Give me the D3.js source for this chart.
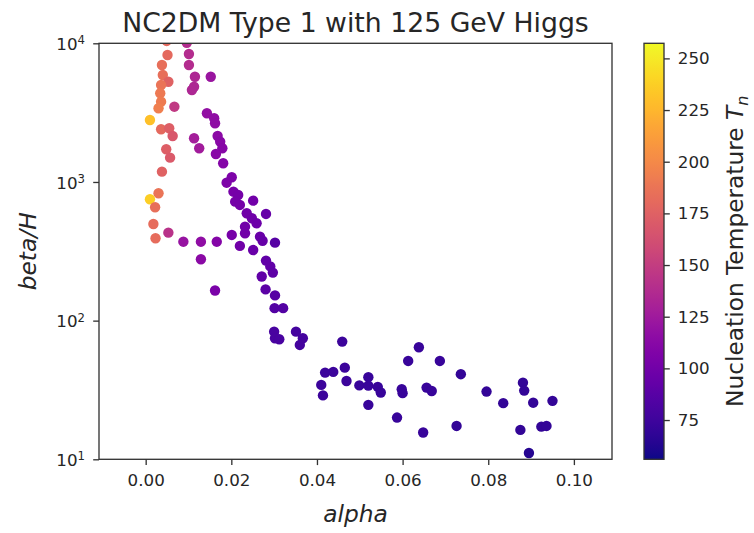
<!DOCTYPE html>
<html><head><meta charset="utf-8">
<script src="https://cdn.jsdelivr.net/npm/d3@7"></script>
<style>body{margin:0;background:#fff}svg{display:block}text{font-family:"DejaVu Sans",sans-serif;fill:#262626}</style>
</head><body><svg id="c" width="754" height="533"></svg>
<script>
const alpha = [0.0049,0.0096,0.0051,0.0101,0.0038,0.0101,0.0040,0.0115,0.0152,0.0053,0.0036,0.0113,0.0108,0.0034,0.0036,0.0067,0.0030,0.0143,0.0160,0.0010,0.0162,0.0036,0.0055,0.0063,0.0168,0.0113,0.0174,0.0048,0.0125,0.0179,0.0057,0.0164,0.0181,0.0038,0.0201,0.0189,0.0205,0.0216,0.0030,0.0010,0.0209,0.0251,0.0022,0.0220,0.0236,0.0281,0.0248,0.0259,0.0232,0.0018,0.0053,0.0232,0.0201,0.0267,0.0023,0.0088,0.0129,0.0166,0.0273,0.0302,0.0220,0.0251,0.0129,0.0281,0.0291,0.0297,0.0271,0.0162,0.0280,0.0302,0.0301,0.0321,0.0300,0.0302,0.0312,0.0351,0.0367,0.0360,0.0459,0.0419,0.0438,0.0465,0.0469,0.0410,0.0414,0.0499,0.0520,0.0520,0.0542,0.0549,0.0520,0.0613,0.0638,0.0687,0.0598,0.0600,0.0656,0.0668,0.0587,0.0648,0.0736,0.0726,0.0796,0.0835,0.0881,0.0884,0.0905,0.0950,0.0875,0.0924,0.0936,0.0895];
const betaH = [10400,10100,8234,8375,6972,6972,5906,5743,5743,5285,5003,4864,4605,4360,3792,3490,3399,3128,2879,2799,2650,2399,2439,2146,2146,2065,1952,1721,1750,1750,1497,1592,1364,1187,1081,988,851,806,829,750,721,733,657,683,595,588,547,504,476,498,431,427,415,403,393,371,371,371,377,365,346,323,277,271,246,222,208,165,168,152,123,123,83.3,74.7,73.4,83.3,74.7,66.8,70.6,42.2,42.7,45.8,36.7,34.4,28.9,34.1,39.1,34.0,33.3,30.3,24.7,51.2,64.3,51.2,32.0,30.0,32.9,31.1,20.0,15.6,41.1,17.4,30.8,25.4,35.7,31.3,25.6,26.4,16.3,17.2,17.4,11.1];
const Tn = [180,138,180,138,184,138,184,134,122,175,187,134,134,190,192,148,194,118,116,230,115,180,173,168,114,128,112,173,126,111,170,112,110,175,106,106,103,102,187,237,102,100,184,101,100,94,99,97,100,182,142,100,103,96,182,120,116,110,94,86,100,96,113,92,92,90,92,104,89,87,85,85,80,80,80,78,78,78,74,74,74,74,74,74,74,72,72,72,72,72,72,72,72,72,72,72,72,72,72,72,70,70,70,70,70,70,70,70,70,70,70,64];
const xTicks = [0.00,0.02,0.04,0.06,0.08,0.10];
const yTicks = [10,100,1000,10000];
const cTicks = [75,100,125,150,175,200,225,250];
const title = "NC2DM Type 1 with 125 GeV Higgs";

const svg = d3.select("#c");
const L=99, R=612, T=43.3, B=459.3;
const x = d3.scaleLinear().domain([-0.0109,0.1089]).range([L,R]);
const y = d3.scaleLog().domain([10,10000]).range([B,T]);
const cdom=[56,257.3];
const color = d3.scaleSequential(d3.interpolatePlasma).domain(cdom);
const TS=16.7, TL=5.8, LS=23.3, ink="#333";

svg.append("clipPath").attr("id","clip").append("rect").attr("x",L).attr("y",T).attr("width",R-L).attr("height",B-T);
svg.append("g").attr("clip-path","url(#clip)").selectAll("circle").data(alpha.map((a,i)=>({a,b:betaH[i],t:Tn[i]})))
  .join("circle").attr("cx",d=>x(d.a)).attr("cy",d=>y(d.b)).attr("r",5.2).attr("fill",d=>color(d.t));

svg.append("rect").attr("x",L).attr("y",T).attr("width",R-L).attr("height",B-T).attr("fill","none").attr("stroke",ink).attr("stroke-width",1.33);

const xa = svg.append("g").attr("transform",`translate(0,${B})`).call(d3.axisBottom(x).tickValues(xTicks).tickFormat(d3.format(".2f")).tickSize(TL).tickPadding(9));
const ya = svg.append("g").attr("transform",`translate(${L},0)`).call(d3.axisLeft(y).tickValues(yTicks).tickFormat("").tickSize(TL));
[xa,ya].forEach(g=>{g.select(".domain").remove();g.selectAll("line").attr("stroke",ink).attr("stroke-width",1.33);g.selectAll("text").style("font-size",TS+"px").attr("fill","#262626");});
ya.selectAll(".tick").append("text").attr("x",-14).attr("dy","0.38em").attr("text-anchor","end").style("font-size",TS+"px").attr("fill","#262626")
  .each(function(d){const t=d3.select(this);t.append("tspan").text("10");t.append("tspan").attr("dy","-0.5em").style("font-size","11.7px").text(Math.round(Math.log10(d)));});

svg.append("text").attr("x",(L+R)/2).attr("y",32).attr("text-anchor","middle").style("font-size","26.7px").text(title);
svg.append("text").attr("x",(L+R)/2).attr("y",522).attr("text-anchor","middle").style("font-size",LS+"px").style("font-style","italic").text("alpha");
svg.append("text").attr("transform",`translate(36,${(T+B)/2}) rotate(-90)`).attr("text-anchor","middle").style("font-size",LS+"px").style("font-style","italic").text("beta/H");

// colorbar
const CL=644, CW=20;
const cy = d3.scaleLinear().domain(cdom).range([B,T]);
const grad = svg.append("defs").append("linearGradient").attr("id","g").attr("x1",0).attr("y1",1).attr("x2",0).attr("y2",0);
d3.range(0,1.0001,0.02).forEach(s=>grad.append("stop").attr("offset",s).attr("stop-color",d3.interpolatePlasma(s)));
svg.append("rect").attr("x",CL).attr("y",T).attr("width",CW).attr("height",B-T).attr("fill","url(#g)").attr("stroke",ink).attr("stroke-width",1.33);
const ca = svg.append("g").attr("transform",`translate(${CL+CW},0)`).call(d3.axisRight(cy).tickValues(cTicks).tickSize(TL).tickPadding(8));
ca.select(".domain").remove();
ca.selectAll("line").attr("stroke",ink).attr("stroke-width",1.33);
ca.selectAll("text").style("font-size",TS+"px").attr("fill","#262626");
const cl = svg.append("text").attr("transform",`translate(743,${(T+B)/2}) rotate(-90)`).attr("text-anchor","middle").style("font-size",LS+"px");
cl.append("tspan").text("Nucleation Temperature ");
cl.append("tspan").style("font-style","italic").text("T");
cl.append("tspan").attr("dy","0.3em").style("font-size","16px").style("font-style","italic").text("n");
</script></body></html>
